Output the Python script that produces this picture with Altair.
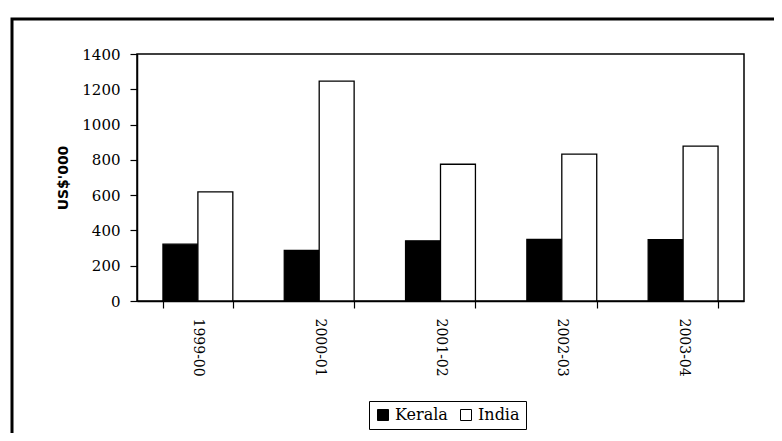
import altair as alt
import pandas as pd

years = ["1999-00", "2000-01", "2001-02", "2002-03", "2003-04"]
series = ["Kerala", "India"]
kerala = [322, 287, 341, 349, 348]
india = [619, 1246, 775, 833, 878]
y_ticks = [0, 200, 400, 600, 800, 1000, 1200, 1400]

rows = []
for i, yr in enumerate(years):
    rows.append({"year": yr, "region": "Kerala", "value": kerala[i]})
    rows.append({"year": yr, "region": "India", "value": india[i]})
df = pd.DataFrame(rows)

SERIF = "DejaVu Serif"

bars = alt.Chart(df).mark_bar(stroke="black", strokeWidth=1.3).encode(
    x=alt.X(
        "year:N",
        sort=years,
        scale=alt.Scale(paddingInner=0.424, paddingOuter=0.214),
        axis=alt.Axis(
            title=None,
            labelAngle=90,
            tickBand="extent",
            labelFont=SERIF,
            labelFontSize=14,
            labelPadding=10,
            tickSize=7,
        ),
    ),
    xOffset=alt.XOffset("region:N", sort=series,
                        scale=alt.Scale(paddingInner=0, paddingOuter=0)),
    y=alt.Y(
        "value:Q",
        scale=alt.Scale(domain=[0, 1400], nice=False),
        axis=alt.Axis(
            values=y_ticks,
            format="d",
            title="US$'000",
            titleFont="DejaVu Sans",
            titleFontSize=14,
            titleFontWeight="bold",
            titleColor="black",
            titlePadding=11,
            labelFont=SERIF,
            labelFontSize=15,
            labelPadding=10,
            tickSize=7,
            grid=False,
        ),
    ),
    color=alt.Color(
        "region:N",
        sort=series,
        scale=alt.Scale(domain=series, range=["black", "white"]),
        legend=alt.Legend(
            orient="none",
            legendX=232,
            legendY=347,
            direction="horizontal",
            title=None,
            symbolType="square",
            symbolSize=121,
            symbolStrokeColor="black",
            symbolStrokeWidth=1,
            labelFont=SERIF,
            labelFontSize=16,
            labelColor="black",
            labelOffset=4,
            strokeColor="black",
            fillColor="white",
            padding=6,
            columnPadding=10,
        ),
    ),
)

frame = alt.Chart(pd.DataFrame({"a": [0]})).mark_rect(
    fillOpacity=0, stroke="black", strokeWidth=3
).encode(
    x=alt.value(-125), x2=alt.value(663), y=alt.value(-35), y2=alt.value(406)
)

chart = alt.layer(frame, bars).properties(
    width=607,
    height=247,
    autosize=alt.AutoSizeParams(type="none"),
    padding={"left": 129, "top": 46, "right": 30, "bottom": 132},
    background="white",
).configure_view(
    stroke="black", strokeWidth=1.5
).configure_axis(
    domainColor="black",
    domainWidth=1.5,
    tickColor="black",
    tickWidth=1.2,
    labelColor="black",
).configure_legend(
    labelFont=SERIF
)

chart.save("out.html", embed_options={"renderer": "svg", "actions": False})
